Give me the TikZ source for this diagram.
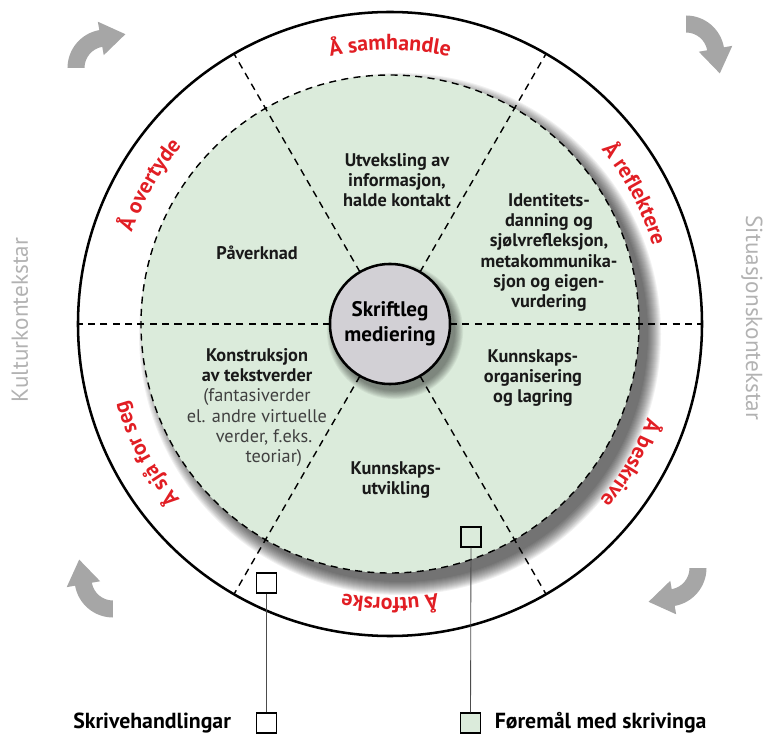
\documentclass[tikz,border=0pt]{standalone}
\usepackage{fontspec}
\setmainfont{PT Sans}
\usetikzlibrary{positioning,decorations.text}
\definecolor{secgreen}{RGB}{219,235,219}
\definecolor{labred}{RGB}{225,30,36}
\definecolor{medgray}{RGB}{210,208,213}
\definecolor{ctxgray}{RGB}{178,178,178}
\definecolor{arrgray}{RGB}{166,166,166}
\newcommand\redfont{\fontsize{15.5}{18}\selectfont\bfseries}
\newcommand\plainline{\mdseries\color{black!75}}

\begin{document}
\begin{tikzpicture}[x=0.025cm,y=0.025cm,
  sector/.style={align=center,font=\fontsize{13}{14.4}\selectfont\bfseries,text=black!90},
  ctx/.style={font=\fontsize{16.5}{19}\selectfont,text=ctxgray},
  sq/.style={draw,line width=0.8pt,minimum size=0.5cm,inner sep=0pt},
  legtext/.style={font=\fontsize{15.5}{18}\selectfont\bfseries},
  radial/.style={line width=1pt,dash pattern=on 5pt off 3.8pt},
  bendarrow/.pic={\fill[arrgray] (180:38.5) arc[start angle=180,end angle=100,radius=38.5]
     -- (100:47) -- (19.4,33.8) -- (100:13) -- (100:21.5)
     arc[start angle=100,end angle=180,radius=21.5] -- cycle;}]
  \useasboundingbox (-390,-411) rectangle (384,324);
% Shadow of the inner disc
  \foreach \k in {0,...,13} \fill[black,opacity=0.055] (10,-10) circle ({248+\k});
% Inner disc and ring
  \fill[secgreen] (0,0) circle (249);
  \draw[radial] (0,0) circle (249);
  \foreach \a in {0,60,...,300} \draw[radial] (\a:60) -- (\a:312);
  \draw[line width=1.8pt] (0,0) circle (312);
% Centre
  \foreach \k in {0,...,9} \fill[black,opacity=0.05] (5,-7) circle ({60+0.9*\k});
  \node[circle,draw,line width=1.8pt,fill=medgray,minimum size=3cm,inner sep=0pt,
    align=center,font=\fontsize{15}{18}\selectfont\bfseries] (med) at (0,0) {Skriftleg\\mediering};
% Purposes
  \node[sector] (utv) at (7,144) {Utveksling av\\informasjon,\\halde kontakt};
  \node[sector] (ident) at (159,71.5) {Identitets-\\danning og\\sjølvrefleksjon,\\metakommunika-\\sjon og eigen-\\vurdering};
  \node[sector] (paav) at (-133,71) {Påverknad};
  \node[sector] (konstr) at (-133,-83.5) {Konstruksjon\\av tekstverder\\\plainline(fantasiverder\\\plainline el. andre virtuelle\\\plainline\hspace*{10pt}verder, f.eks.\\\plainline\hspace*{24pt}teoriar)};
  \node[sector] (org) at (143,-54) {Kunnskaps-\\organisering\\og lagring};
  \node[sector] (utvikl) at (6,-156) {Kunnskaps-\\utvikling};
% Writing acts
  \path[decorate,decoration={text along path,text align=center,text color=labred,
    text={|\redfont|Å samhandle}}] (115:274) arc[start angle=115,end angle=65,radius=274];
  \path[decorate,decoration={text along path,text align=center,text color=labred,
    text={|\redfont|Å reflektere}}] (53:274) arc[start angle=53,end angle=3,radius=274];
  \path[decorate,decoration={text along path,text align=center,text color=labred,
    text={|\redfont|Å beskrive}}] (-5:274) arc[start angle=-5,end angle=-55,radius=274];
  \path[decorate,decoration={text along path,text align=center,text color=labred,
    text={|\redfont|Å utforske}}] (-65:274) arc[start angle=-65,end angle=-115,radius=274];
  \path[decorate,decoration={text along path,text align=center,text color=labred,
    text={|\redfont|Å sjå for seg}}] (233:274) arc[start angle=233,end angle=183,radius=274];
  \path[decorate,decoration={text along path,text align=center,text color=labred,
    text={|\redfont|Å overtyde}}] (175:274) arc[start angle=175,end angle=125,radius=274];
% Contexts
  \node[ctx,rotate=90] (kultur) at (-370,4) {Kulturkontekstar};
  \node[ctx,rotate=-90] (situ) at (362,6) {Situasjonskontekstar};
  \pic at (-284,256) {bendarrow};
  \pic[rotate=-90] at (296,270) {bendarrow};
  \pic[rotate=180] at (278,-244) {bendarrow};
  \pic[rotate=90] at (-277,-255) {bendarrow};
% Legend
  \node[sq] (ringsq) at (-123.5,-259) {};
  \node[sq] (innsq) at (81,-213) {};
  \node[sq,fill=white] (legA) at (-123.5,-399) {};
  \node[sq,fill=secgreen] (legB) at (80.5,-399) {};
  \draw[line width=0.6pt,black!70] (ringsq) -- (legA);
  \draw[line width=0.6pt,black!70] (innsq) -- (legB);
  \node[legtext,left=0.5cm of legA] (skriv) {Skrivehandlingar};
  \node[legtext,right=0.22cm of legB] (foremal) {Føremål med skrivinga};
\end{tikzpicture}
\end{document}
